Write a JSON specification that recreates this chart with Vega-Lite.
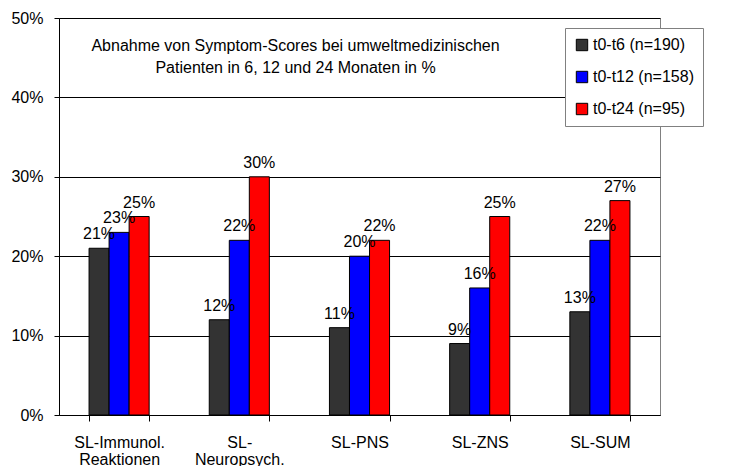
{
  "$schema": "https://vega.github.io/schema/vega-lite/v6.json",
  "autosize": {"type": "none"},
  "padding": {"left": 59, "top": 18, "right": 81, "bottom": 51},
  "width": 601,
  "height": 397,
  "background": "white",
  "title": {
    "text": ["Abnahme von Symptom-Scores bei umweltmedizinischen", "Patienten in 6, 12 und 24 Monaten in %"],
    "orient": "top",
    "anchor": "middle",
    "frame": "group",
    "baseline": "top",
    "offset": -66,
    "dx": -64,
    "font": "Liberation Sans",
    "fontSize": 16,
    "fontWeight": "normal",
    "lineHeight": 22,
    "color": "black"
  },
  "data": {
    "values": [
      {"cat": "SL-Immunol. Reaktionen", "series": "t0-t6 (n=190)", "value": 0.21},
      {"cat": "SL-Immunol. Reaktionen", "series": "t0-t12 (n=158)", "value": 0.23},
      {"cat": "SL-Immunol. Reaktionen", "series": "t0-t24 (n=95)", "value": 0.25},
      {"cat": "SL-Neuropsych.", "series": "t0-t6 (n=190)", "value": 0.12},
      {"cat": "SL-Neuropsych.", "series": "t0-t12 (n=158)", "value": 0.22},
      {"cat": "SL-Neuropsych.", "series": "t0-t24 (n=95)", "value": 0.30},
      {"cat": "SL-PNS", "series": "t0-t6 (n=190)", "value": 0.11},
      {"cat": "SL-PNS", "series": "t0-t12 (n=158)", "value": 0.20},
      {"cat": "SL-PNS", "series": "t0-t24 (n=95)", "value": 0.22},
      {"cat": "SL-ZNS", "series": "t0-t6 (n=190)", "value": 0.09},
      {"cat": "SL-ZNS", "series": "t0-t12 (n=158)", "value": 0.16},
      {"cat": "SL-ZNS", "series": "t0-t24 (n=95)", "value": 0.25},
      {"cat": "SL-SUM", "series": "t0-t6 (n=190)", "value": 0.13},
      {"cat": "SL-SUM", "series": "t0-t12 (n=158)", "value": 0.22},
      {"cat": "SL-SUM", "series": "t0-t24 (n=95)", "value": 0.27}
    ]
  },
  "encoding": {
    "x": {
      "field": "cat",
      "type": "nominal",
      "sort": null,
      "scale": {"paddingInner": 0.5, "paddingOuter": 0.25},
      "axis": {
        "title": null,
        "labelAngle": 0,
        "tickBand": "extent",
        "labelExpr": "datum.value == 'SL-Immunol. Reaktionen' ? ['SL-Immunol.', 'Reaktionen'] : datum.value == 'SL-Neuropsych.' ? ['SL-', 'Neuropsych.'] : datum.value",
        "labelFont": "Liberation Sans",
        "labelFontSize": 16,
        "labelColor": "black",
        "labelLineHeight": 17,
        "labelPadding": 13,
        "domainColor": "black",
        "tickColor": "black",
        "tickSize": 6,
        "grid": false
      }
    },
    "xOffset": {"field": "series", "type": "nominal", "sort": null, "scale": {"paddingInner": 0, "paddingOuter": 0}},
    "y": {
      "field": "value",
      "type": "quantitative",
      "scale": {"domain": [0, 0.5]},
      "axis": {
        "title": null,
        "values": [0, 0.1, 0.2, 0.3, 0.4, 0.5],
        "format": ".0%",
        "labelFont": "Liberation Sans",
        "labelFontSize": 16,
        "labelColor": "black",
        "labelPadding": 11,
        "domainColor": "black",
        "tickColor": "black",
        "tickSize": 5,
        "grid": true,
        "gridColor": "black",
        "gridOpacity": 1
      }
    }
  },
  "layer": [
    {
      "mark": {"type": "bar", "stroke": "black", "strokeWidth": 1},
      "encoding": {
        "color": {
          "field": "series",
          "type": "nominal",
          "sort": null,
          "scale": {"domain": ["t0-t6 (n=190)", "t0-t12 (n=158)", "t0-t24 (n=95)"], "range": ["#333333", "#0000ff", "#ff0000"]},
          "legend": {
            "title": null,
            "orient": "none",
            "legendX": 506,
            "legendY": 10,
            "symbolType": "square",
            "symbolSize": 130,
            "symbolStrokeColor": "black",
            "symbolStrokeWidth": 1,
            "symbolOpacity": 1,
            "labelFont": "Liberation Sans",
            "labelFontSize": 16,
            "labelColor": "black",
            "labelOffset": 3,
            "rowPadding": 16,
            "padding": 9,
            "strokeColor": "#808080",
            "fillColor": "white",
            "symbolLimit": 0
          }
        }
      }
    },
    {
      "mark": {"type": "text", "baseline": "bottom", "dy": -6, "font": "Liberation Sans", "fontSize": 16, "color": "black"},
      "encoding": {
        "text": {"field": "value", "type": "quantitative", "format": ".0%"}
      }
    }
  ],
  "config": {
    "view": {"stroke": "#808080", "strokeWidth": 1}
  }
}
